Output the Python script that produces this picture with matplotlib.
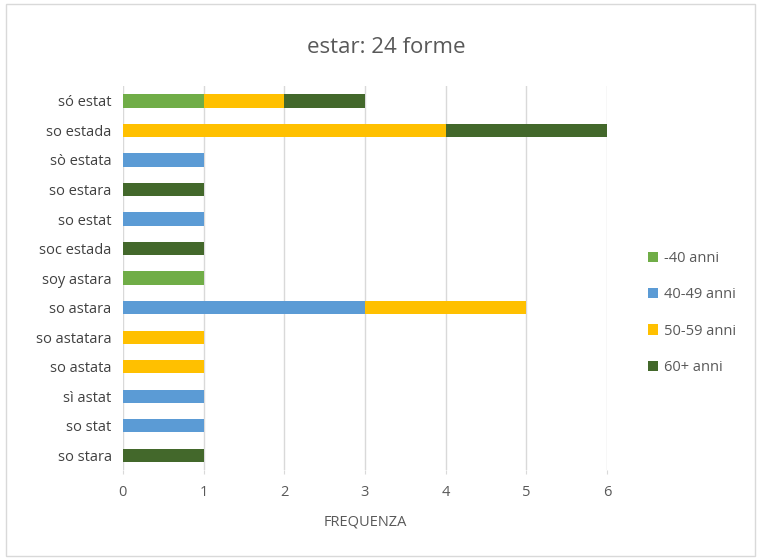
import matplotlib.pyplot as plt
from matplotlib.patches import Rectangle
import numpy as np

forme = ['só estat', 'so estada', 'sò estata', 'so estara', 'so estat',
         'soc estada', 'soy astara', 'so astara', 'so astatara', 'so astata',
         'sì astat', 'so stat', 'so stara']
gruppi = ['-40 anni', '40-49 anni', '50-59 anni', '60+ anni']
colori = ['#70AD47', '#5B9BD5', '#FFC000', '#43682B']

meno40 = [1, 0, 0, 0, 0, 0, 1, 0, 0, 0, 0, 0, 0]
anni40 = [0, 0, 1, 0, 1, 0, 0, 3, 0, 0, 1, 1, 0]
anni50 = [1, 4, 0, 0, 0, 0, 0, 2, 1, 1, 0, 0, 0]
anni60 = [1, 2, 0, 1, 0, 1, 0, 0, 0, 0, 0, 0, 1]

plt.rcParams['font.family'] = ['Open Sans', 'DejaVu Sans']

fig = plt.figure(figsize=(7.58, 5.59), dpi=100)
fig.patches.append(Rectangle((0.008, 0.006), 0.988, 0.986, transform=fig.transFigure,
                             fill=False, edgecolor='#D9D9D9', linewidth=1))
ax = fig.add_axes([0.162, 0.159, 0.639, 0.687])

y = np.arange(len(forme))
left = np.zeros(len(forme))
for serie, nome, col in zip([meno40, anni40, anni50, anni60], gruppi, colori):
    ax.barh(y, serie, left=left, height=0.45, color=col, label=nome, zorder=3)
    left += np.array(serie)

ax.set_ylim(len(forme) - 0.5, -0.5)
ax.set_yticks(y)
ax.set_yticklabels(forme, fontsize=10.5, color='#404040')
ax.set_xlim(0, 6)
ax.set_xticks(range(7))
ax.tick_params(axis='x', labelsize=10.5, colors='#595959', length=3, color='#D9D9D9', pad=8)
ax.tick_params(axis='y', length=0, pad=8)
ax.grid(axis='x', color='#D9D9D9', linewidth=1, zorder=0)
for s in ax.spines.values():
    s.set_visible(False)
ax.set_xlabel('FREQUENZA', fontsize=10.5, color='#595959', labelpad=10)

fig.text(0.51, 0.915, 'estar: 24 forme', ha='center', va='center', fontsize=16, color='#595959')

fig.legend(loc='center left', bbox_to_anchor=(0.837, 0.44), frameon=False,
           fontsize=10.5, labelspacing=1.45, handlelength=0.7, handleheight=0.7,
           handletextpad=0.4, labelcolor='#595959')

fig.savefig('out.png', dpi=100)
